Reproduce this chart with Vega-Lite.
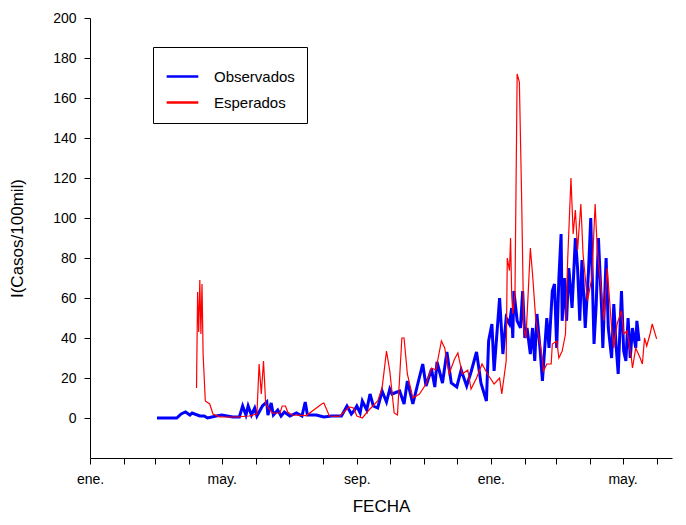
{
  "$schema": "https://vega.github.io/schema/vega-lite/v6.json",
  "width": 582,
  "height": 440,
  "autosize": {"type": "none"},
  "padding": {"left": 90, "top": 18, "right": 14, "bottom": 67},
  "background": "white",
  "config": {"view": {"stroke": null}, "font": "Liberation Sans"},
  "datasets": {
    "obs": [
      {"f":"2014-03-03","v":0},{"f":"2014-03-21","v":0},{"f":"2014-03-25","v":2},{"f":"2014-03-29","v":3},{"f":"2014-04-02","v":1.5},{"f":"2014-04-04","v":2.5},{"f":"2014-04-11","v":1},{"f":"2014-04-15","v":1},{"f":"2014-04-18","v":0},{"f":"2014-04-26","v":1},{"f":"2014-05-01","v":1.5},{"f":"2014-05-11","v":0.5},{"f":"2014-05-17","v":0.5},{"f":"2014-05-20","v":6},{"f":"2014-05-23","v":1.5},{"f":"2014-05-25","v":6},{"f":"2014-05-28","v":1.5},{"f":"2014-05-31","v":5},{"f":"2014-06-02","v":1},{"f":"2014-06-07","v":6},{"f":"2014-06-11","v":8},{"f":"2014-06-12","v":1.5},{"f":"2014-06-15","v":7.5},{"f":"2014-06-17","v":1.5},{"f":"2014-06-21","v":4},{"f":"2014-06-24","v":1},{"f":"2014-06-27","v":3},{"f":"2014-07-02","v":1},{"f":"2014-07-08","v":2.5},{"f":"2014-07-13","v":1},{"f":"2014-07-16","v":8},{"f":"2014-07-18","v":1.5},{"f":"2014-07-26","v":1.5},{"f":"2014-08-02","v":0.5},{"f":"2014-08-09","v":1},{"f":"2014-08-18","v":1},{"f":"2014-08-23","v":6},{"f":"2014-08-27","v":2},{"f":"2014-08-30","v":4},{"f":"2014-09-01","v":6},{"f":"2014-09-04","v":2.5},{"f":"2014-09-06","v":8.5},{"f":"2014-09-10","v":4},{"f":"2014-09-13","v":12},{"f":"2014-09-16","v":6},{"f":"2014-09-20","v":5},{"f":"2014-09-24","v":13.5},{"f":"2014-09-28","v":8},{"f":"2014-10-01","v":14.5},{"f":"2014-10-03","v":12},{"f":"2014-10-10","v":13.5},{"f":"2014-10-14","v":7},{"f":"2014-10-17","v":18.5},{"f":"2014-10-22","v":7},{"f":"2014-10-26","v":16},{"f":"2014-10-31","v":27},{"f":"2014-11-03","v":16},{"f":"2014-11-08","v":24.5},{"f":"2014-11-11","v":15.5},{"f":"2014-11-13","v":28},{"f":"2014-11-18","v":17.5},{"f":"2014-11-22","v":33},{"f":"2014-11-26","v":17.5},{"f":"2014-12-01","v":15.5},{"f":"2014-12-05","v":24},{"f":"2014-12-10","v":16},{"f":"2014-12-14","v":23},{"f":"2014-12-19","v":33},{"f":"2014-12-23","v":17.5},{"f":"2014-12-28","v":8.5},{"f":"2014-12-30","v":38.5},{"f":"2015-01-02","v":47},{"f":"2015-01-04","v":23.5},{"f":"2015-01-09","v":60},{"f":"2015-01-12","v":32},{"f":"2015-01-15","v":50},{"f":"2015-01-18","v":47},{"f":"2015-01-20","v":55},{"f":"2015-01-21","v":40},{"f":"2015-01-22","v":63.5},{"f":"2015-01-25","v":48.6},{"f":"2015-01-28","v":45},{"f":"2015-01-30","v":63.5},{"f":"2015-02-01","v":40},{"f":"2015-02-03","v":45},{"f":"2015-02-06","v":32},{"f":"2015-02-08","v":45},{"f":"2015-02-10","v":28.5},{"f":"2015-02-12","v":52},{"f":"2015-02-15","v":33.5},{"f":"2015-02-17","v":18.5},{"f":"2015-02-21","v":50},{"f":"2015-02-23","v":35},{"f":"2015-02-26","v":63.5},{"f":"2015-02-28","v":67},{"f":"2015-03-02","v":35},{"f":"2015-03-04","v":70},{"f":"2015-03-06","v":92},{"f":"2015-03-07","v":48.6},{"f":"2015-03-09","v":70},{"f":"2015-03-11","v":48.6},{"f":"2015-03-13","v":75},{"f":"2015-03-16","v":55},{"f":"2015-03-19","v":90},{"f":"2015-03-21","v":75},{"f":"2015-03-23","v":48.6},{"f":"2015-03-25","v":79},{"f":"2015-03-28","v":45},{"f":"2015-03-31","v":73.7},{"f":"2015-04-02","v":100},{"f":"2015-04-05","v":37},{"f":"2015-04-07","v":57},{"f":"2015-04-09","v":90},{"f":"2015-04-12","v":53.6},{"f":"2015-04-13","v":35},{"f":"2015-04-16","v":80},{"f":"2015-04-18","v":45},{"f":"2015-04-21","v":30},{"f":"2015-04-23","v":57},{"f":"2015-04-25","v":37},{"f":"2015-04-27","v":22},{"f":"2015-04-30","v":63.5},{"f":"2015-05-02","v":33.5},{"f":"2015-05-04","v":28.5},{"f":"2015-05-06","v":50},{"f":"2015-05-08","v":30},{"f":"2015-05-10","v":45},{"f":"2015-05-13","v":35},{"f":"2015-05-14","v":48.6},{"f":"2015-05-16","v":38.5}
    ],
    "esp": [
      {"f":"2014-04-08","v":15},{"f":"2014-04-09","v":63},{"f":"2014-04-10","v":43},{"f":"2014-04-11","v":69},{"f":"2014-04-12","v":42},{"f":"2014-04-13","v":67},{"f":"2014-04-14","v":32},{"f":"2014-04-16","v":8.5},{"f":"2014-04-20","v":7},{"f":"2014-04-23","v":2},{"f":"2014-04-29","v":0.6},{"f":"2014-05-14","v":0.5},{"f":"2014-05-26","v":1},{"f":"2014-06-02","v":2},{"f":"2014-06-04","v":27},{"f":"2014-06-06","v":12},{"f":"2014-06-08","v":28.5},{"f":"2014-06-10","v":7},{"f":"2014-06-16","v":2.5},{"f":"2014-06-23","v":2.5},{"f":"2014-06-25","v":6},{"f":"2014-06-28","v":6},{"f":"2014-06-30","v":3},{"f":"2014-07-04","v":1.5},{"f":"2014-07-17","v":1.2},{"f":"2014-07-31","v":7},{"f":"2014-08-02","v":7.5},{"f":"2014-08-07","v":1},{"f":"2014-08-16","v":0.8},{"f":"2014-08-25","v":5.5},{"f":"2014-08-29","v":5},{"f":"2014-09-01","v":1},{"f":"2014-09-06","v":0},{"f":"2014-09-12","v":4},{"f":"2014-09-20","v":8.5},{"f":"2014-09-24","v":15},{"f":"2014-09-28","v":33.5},{"f":"2014-10-01","v":23.5},{"f":"2014-10-05","v":2.5},{"f":"2014-10-08","v":1.5},{"f":"2014-10-12","v":40},{"f":"2014-10-14","v":40},{"f":"2014-10-17","v":22},{"f":"2014-10-22","v":10},{"f":"2014-10-28","v":12},{"f":"2014-11-03","v":17},{"f":"2014-11-08","v":25},{"f":"2014-11-12","v":24},{"f":"2014-11-17","v":38.5},{"f":"2014-11-20","v":35},{"f":"2014-11-24","v":22},{"f":"2014-11-29","v":29.5},{"f":"2014-12-02","v":32.5},{"f":"2014-12-06","v":22},{"f":"2014-12-11","v":24},{"f":"2014-12-14","v":14.5},{"f":"2014-12-19","v":20},{"f":"2014-12-24","v":27},{"f":"2014-12-29","v":22},{"f":"2015-01-04","v":17},{"f":"2015-01-09","v":20},{"f":"2015-01-11","v":12},{"f":"2015-01-15","v":28.5},{"f":"2015-01-16","v":80},{"f":"2015-01-18","v":73.7},{"f":"2015-01-19","v":90},{"f":"2015-01-20","v":62},{"f":"2015-01-21","v":52},{"f":"2015-01-23","v":62},{"f":"2015-01-25","v":172},{"f":"2015-01-27","v":168},{"f":"2015-01-29","v":112},{"f":"2015-01-31","v":45},{"f":"2015-02-02","v":40},{"f":"2015-02-04","v":62},{"f":"2015-02-06","v":85},{"f":"2015-02-08","v":72},{"f":"2015-02-11","v":48.6},{"f":"2015-02-16","v":33.5},{"f":"2015-02-18","v":23.5},{"f":"2015-02-21","v":27},{"f":"2015-02-25","v":27},{"f":"2015-02-26","v":37},{"f":"2015-03-02","v":38.5},{"f":"2015-03-04","v":30},{"f":"2015-03-07","v":33.5},{"f":"2015-03-10","v":42},{"f":"2015-03-12","v":79},{"f":"2015-03-15","v":120},{"f":"2015-03-17","v":92},{"f":"2015-03-19","v":104},{"f":"2015-03-21","v":84},{"f":"2015-03-24","v":107},{"f":"2015-03-26","v":82},{"f":"2015-03-30","v":58.6},{"f":"2015-04-03","v":70},{"f":"2015-04-06","v":107},{"f":"2015-04-08","v":84},{"f":"2015-04-12","v":62},{"f":"2015-04-14","v":48.6},{"f":"2015-04-17","v":75},{"f":"2015-04-21","v":45},{"f":"2015-04-23","v":35},{"f":"2015-04-26","v":47},{"f":"2015-04-30","v":53.6},{"f":"2015-05-02","v":42},{"f":"2015-05-05","v":43.6},{"f":"2015-05-09","v":30},{"f":"2015-05-10","v":25},{"f":"2015-05-13","v":35},{"f":"2015-05-17","v":30},{"f":"2015-05-19","v":27},{"f":"2015-05-21","v":40},{"f":"2015-05-23","v":36},{"f":"2015-05-26","v":42},{"f":"2015-05-28","v":47},{"f":"2015-06-01","v":39.6}
    ]
  },
  "encoding": {
    "x": {
      "field": "f",
      "type": "temporal",
      "title": "FECHA",
      "scale": {"type": "utc", "domain": ["2014-01-01", "2015-06-15"]},
      "axis": {
        "values": [
          {"year": 2014, "month": 1, "date": 1, "utc": true},{"year": 2014, "month": 2, "date": 1, "utc": true},{"year": 2014, "month": 3, "date": 1, "utc": true},{"year": 2014, "month": 4, "date": 1, "utc": true},{"year": 2014, "month": 5, "date": 1, "utc": true},{"year": 2014, "month": 6, "date": 1, "utc": true},{"year": 2014, "month": 7, "date": 1, "utc": true},{"year": 2014, "month": 8, "date": 1, "utc": true},{"year": 2014, "month": 9, "date": 1, "utc": true},{"year": 2014, "month": 10, "date": 1, "utc": true},{"year": 2014, "month": 11, "date": 1, "utc": true},{"year": 2014, "month": 12, "date": 1, "utc": true},{"year": 2015, "month": 1, "date": 1, "utc": true},{"year": 2015, "month": 2, "date": 1, "utc": true},{"year": 2015, "month": 3, "date": 1, "utc": true},{"year": 2015, "month": 4, "date": 1, "utc": true},{"year": 2015, "month": 5, "date": 1, "utc": true},{"year": 2015, "month": 6, "date": 1, "utc": true}
        ],
        "labelExpr": "utcmonth(datum.value)==0?'ene.':utcmonth(datum.value)==4?'may.':utcmonth(datum.value)==8?'sep.':''",
        "grid": false,
        "domainColor": "black",
        "tickColor": "black",
        "tickSize": 6,
        "labelFontSize": 14,
        "labelColor": "black",
        "labelPadding": 8,
        "labelFlush": false,
        "titleFontSize": 17,
        "titleFontWeight": "normal",
        "titleColor": "black",
        "titlePadding": 12
      }
    },
    "y": {
      "field": "v",
      "type": "quantitative",
      "title": "I(Casos/100mil)",
      "scale": {"domain": [-20, 200], "nice": false},
      "axis": {
        "values": [0,20,40,60,80,100,120,140,160,180,200],
        "grid": false,
        "domainColor": "black",
        "tickColor": "black",
        "tickSize": 6,
        "labelFontSize": 14,
        "labelColor": "black",
        "labelPadding": 8,
        "titleFontSize": 17,
        "titleFontWeight": "normal",
        "titleColor": "black",
        "titlePadding": 26
      }
    }
  },
  "layer": [
    {
      "data": {"name": "obs"},
      "mark": {"type": "line", "strokeWidth": 3},
      "encoding": {
        "color": {
          "datum": "Observados",
          "title": null,
          "scale": {"domain": ["Observados", "Esperados"], "range": ["#0000ff", "#ff0000"]},
          "legend": {
            "orient": "none",
            "legendX": 63,
            "legendY": 29,
            "strokeColor": "black",
            "fillColor": "white",
            "padding": 12,
            "symbolType": "stroke",
            "symbolSize": 1000,
            "symbolStrokeWidth": 2.5,
            "labelFontSize": 15,
            "labelColor": "black",
            "labelOffset": 14,
            "rowPadding": 0,
            "labelLimit": 220
          }
        }
      }
    },
    {
      "data": {"name": "esp"},
      "mark": {"type": "line", "strokeWidth": 1.2},
      "encoding": {"color": {"datum": "Esperados"}}
    }
  ]
}
